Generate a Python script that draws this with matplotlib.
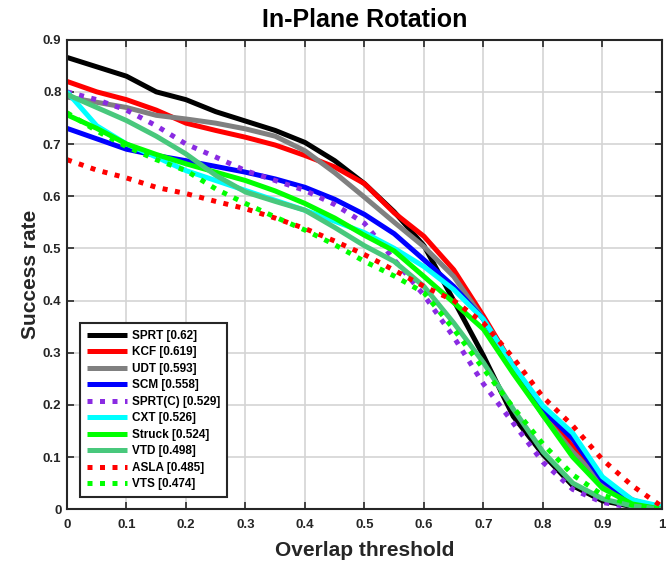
import numpy as np
import matplotlib
matplotlib.use('Agg')
import matplotlib.pyplot as plt

plt.rcParams['font.family'] = ['Liberation Sans', 'DejaVu Sans']
plt.rcParams['font.weight'] = 'bold'

# overlap thresholds 0:0.05:1
thresholds = np.linspace(0, 1, 21)

sprt = [0.866, 0.848, 0.830, 0.800, 0.785, 0.762, 0.744, 0.726, 0.703, 0.668, 0.624,
        0.570, 0.505, 0.400, 0.294, 0.178, 0.105, 0.045, 0.016, 0.005, 0.0]
kcf = [0.820, 0.800, 0.785, 0.765, 0.740, 0.726, 0.713, 0.698, 0.678, 0.656, 0.624,
       0.568, 0.523, 0.459, 0.370, 0.275, 0.190, 0.120, 0.055, 0.018, 0.0]
udt = [0.790, 0.780, 0.770, 0.755, 0.748, 0.740, 0.729, 0.715, 0.687, 0.645, 0.598,
       0.550, 0.503, 0.446, 0.364, 0.270, 0.180, 0.110, 0.050, 0.015, 0.0]
scm = [0.730, 0.710, 0.690, 0.678, 0.668, 0.657, 0.646, 0.633, 0.617, 0.594, 0.565,
       0.528, 0.478, 0.427, 0.364, 0.270, 0.190, 0.135, 0.055, 0.015, 0.0]
sprt_c = [0.800, 0.785, 0.765, 0.735, 0.700, 0.675, 0.649, 0.630, 0.611, 0.584, 0.548,
          0.478, 0.410, 0.330, 0.240, 0.165, 0.090, 0.038, 0.013, 0.003, 0.0]
cxt = [0.800, 0.735, 0.700, 0.675, 0.649, 0.630, 0.611, 0.592, 0.573, 0.552, 0.530,
       0.500, 0.465, 0.421, 0.364, 0.275, 0.198, 0.146, 0.062, 0.018, 0.005]
struck = [0.756, 0.730, 0.700, 0.680, 0.662, 0.646, 0.630, 0.610, 0.586, 0.558, 0.525,
          0.495, 0.446, 0.396, 0.345, 0.260, 0.180, 0.100, 0.040, 0.010, 0.0]
vtd = [0.795, 0.770, 0.745, 0.715, 0.681, 0.640, 0.608, 0.590, 0.573, 0.540, 0.505,
       0.475, 0.427, 0.357, 0.281, 0.192, 0.110, 0.050, 0.020, 0.006, 0.0]
asla = [0.670, 0.650, 0.635, 0.617, 0.605, 0.590, 0.576, 0.558, 0.538, 0.514, 0.488,
        0.458, 0.427, 0.400, 0.357, 0.290, 0.215, 0.160, 0.095, 0.045, 0.005]
vts = [0.760, 0.725, 0.695, 0.670, 0.649, 0.614, 0.586, 0.560, 0.535, 0.507, 0.475,
       0.447, 0.415, 0.345, 0.269, 0.195, 0.125, 0.066, 0.027, 0.008, 0.0]

labels = ['SPRT [0.62]', 'KCF [0.619]', 'UDT [0.593]', 'SCM [0.558]', 'SPRT(C) [0.529]',
          'CXT [0.526]', 'Struck [0.524]', 'VTD [0.498]', 'ASLA [0.485]', 'VTS [0.474]']
curves = [sprt, kcf, udt, scm, sprt_c, cxt, struck, vtd, asla, vts]
colors = ['k', '#ff0000', '#808080', '#0000ff', '#8a2be2', '#00ffff', '#00ff00',
          '#48c87c', '#ff0000', '#00ff00']
dotted = (0, (1, 1.5))
styles = ['-', '-', '-', '-', dotted, '-', '-', '-', dotted, dotted]

fig = plt.figure(figsize=(6.7, 5.67), dpi=100)
ax = fig.add_axes([0.1, 0.102, 0.888, 0.828])

for y, lab, c, ls in zip(curves, labels, colors, styles):
    ax.plot(thresholds, y, color=c, linestyle=ls, linewidth=3.6, label=lab,
            dash_capstyle='butt', solid_capstyle='butt', solid_joinstyle='round')

ax.set_xlim(0, 1)
ax.set_ylim(0, 0.9)
ax.set_xticks(np.arange(0, 1.01, 0.1))
ax.set_yticks(np.arange(0, 0.91, 0.1))
ax.set_xticklabels(['0'] + ['%.1f' % v for v in np.arange(0.1, 0.95, 0.1)] + ['1'])
ax.set_yticklabels(['0'] + ['%.1f' % v for v in np.arange(0.1, 0.95, 0.1)])

ax.grid(True, color='#d4d4d4', linewidth=1.2)
ax.set_axisbelow(True)
ax.tick_params(direction='in', length=5, width=1.2, color='#262626', top=True, right=True,
               labelsize=9.5, labelcolor='#262626')
ax.tick_params(axis='x', pad=7)
ax.tick_params(axis='y', pad=4)
for s in ax.spines.values():
    s.set_linewidth(1.5)
    s.set_color('#262626')

ax.set_title('In-Plane Rotation', fontsize=18, fontweight='bold', pad=9)
ax.set_xlabel('Overlap threshold', fontsize=15, fontweight='bold', color='#262626', labelpad=7)
ax.set_ylabel('Success rate', fontsize=15, fontweight='bold', color='#262626', labelpad=2)

leg = ax.legend(loc='lower left', bbox_to_anchor=(0.022, 0.025), borderaxespad=0,
                fontsize=8.5, handlelength=3.4, handletextpad=0.4, labelspacing=0.38,
                borderpad=0.6, fancybox=False, framealpha=1, edgecolor='#262626')
leg.get_frame().set_linewidth(1.5)

fig.savefig('out.png', dpi=100)
